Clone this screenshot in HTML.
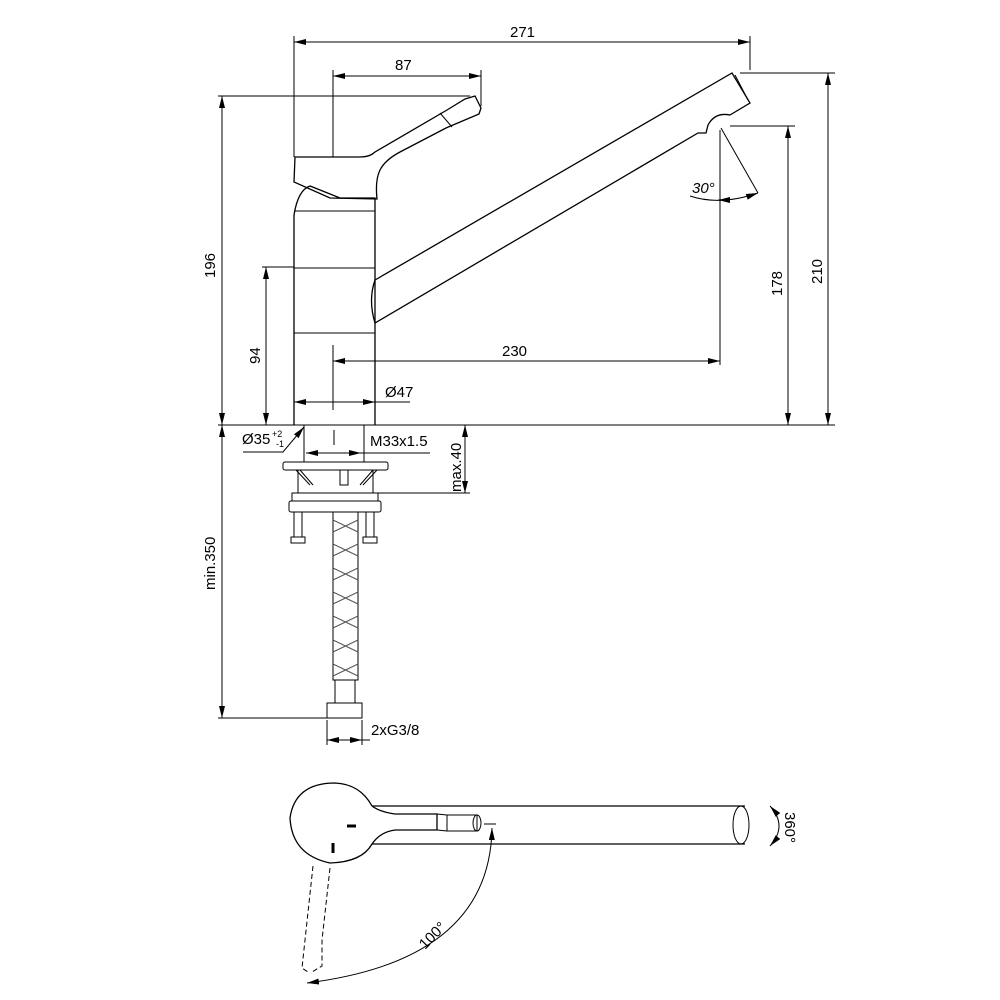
<!DOCTYPE html>
<html><head><style>body{margin:0;background:#fff}svg{display:block}text{font-family:"Liberation Sans",sans-serif;font-size:15px;fill:#000}</style></head>
<body>
<svg width="1000" height="1000" viewBox="0 0 1000 1000" xmlns="http://www.w3.org/2000/svg">
<defs>
<marker id="a" viewBox="0 0 12 6" refX="12" refY="3" markerWidth="12" markerHeight="6" orient="auto-start-reverse" markerUnits="userSpaceOnUse"><path d="M0,0L12,3L0,6z" fill="#000"/></marker>
</defs>
<g fill="none" stroke="#000" stroke-width="1">
<line x1="294" y1="36" x2="294" y2="157"/>
<line x1="750" y1="36" x2="750" y2="70"/>
<line x1="333" y1="70" x2="333" y2="157"/>
<line x1="481" y1="70" x2="481" y2="106"/>
<line x1="218" y1="96" x2="470" y2="96"/>
<line x1="262" y1="267" x2="294" y2="267"/>
<line x1="218" y1="425" x2="835" y2="425"/>
<line x1="740" y1="73" x2="835" y2="73"/>
<line x1="730" y1="126" x2="795" y2="126"/>
<line x1="720" y1="130" x2="720" y2="365"/>
<line x1="333" y1="345" x2="333" y2="410"/>
<line x1="378" y1="493" x2="470" y2="493"/>
<line x1="218" y1="718" x2="330" y2="718"/>
<line x1="327" y1="720" x2="327" y2="745"/>
<line x1="362" y1="720" x2="362" y2="745"/>
<line x1="294" y1="42" x2="750" y2="42" marker-start="url(#a)" marker-end="url(#a)"/>
<line x1="333" y1="76" x2="481" y2="76" marker-start="url(#a)" marker-end="url(#a)"/>
<line x1="222" y1="96" x2="222" y2="425" marker-start="url(#a)" marker-end="url(#a)"/>
<line x1="266" y1="267" x2="266" y2="425" marker-start="url(#a)" marker-end="url(#a)"/>
<line x1="828" y1="73" x2="828" y2="425" marker-start="url(#a)" marker-end="url(#a)"/>
<line x1="788" y1="126" x2="788" y2="425" marker-start="url(#a)" marker-end="url(#a)"/>
<line x1="333" y1="361" x2="720" y2="361" marker-start="url(#a)" marker-end="url(#a)"/>
<line x1="294" y1="402" x2="375" y2="402" marker-start="url(#a)" marker-end="url(#a)"/>
<line x1="375" y1="402" x2="410" y2="402"/>
<line x1="306" y1="453" x2="361" y2="453" marker-start="url(#a)" marker-end="url(#a)"/>
<line x1="361" y1="453" x2="430" y2="453"/>
<line x1="465" y1="425" x2="465" y2="493" marker-start="url(#a)" marker-end="url(#a)"/>
<line x1="222" y1="425" x2="222" y2="718" marker-start="url(#a)" marker-end="url(#a)"/>
<line x1="327" y1="740" x2="362" y2="740" marker-start="url(#a)" marker-end="url(#a)"/>
<line x1="362" y1="740" x2="370" y2="740"/>
<polyline points="243,452 283,452 304,427" marker-end="url(#a)"/>
<line x1="721" y1="128" x2="758" y2="193"/>
<path d="M690,196 Q720,206 758,193" marker-end="url(#a)"/>
<path d="M718,200 L722,200" marker-start="url(#a)"/>
<path d="M294,425 L294,215 Q298,190 310,186 L340,198 L375,198 L375,425" stroke-width="1.3"/>
<line x1="294" y1="211" x2="375" y2="211"/>
<line x1="294" y1="268" x2="375" y2="268"/>
<line x1="294" y1="333" x2="375" y2="333"/>
<path d="M295,157 L294,182 L330,198 L377,199 Q375,180 380,170 Q385,160 400,152 L446,128 L479,114 L481,108 L475,96 L465,99 L447,110 L375,152 Q370,157 360,157 Z" stroke-width="1.3"/>
<line x1="440" y1="113" x2="452" y2="127"/>
<path d="M375,280 L732,73 L750,103 L730,115 Q715,112 708,125 L706,133 L698,133 L375,323 Q368,300 375,280 Z" stroke-width="1.3"/>
<line x1="735" y1="75" x2="748" y2="100"/>
<rect x="304" y="425" width="60" height="37"/>
<line x1="334" y1="430" x2="334" y2="445"/>
<rect x="283" y="462" width="105" height="8" rx="2"/>
<path d="M296,470 L310,485 M300,470 L313,485 M373,470 L360,485 M377,470 L363,485 M340,470 L340,485 L348,485 L348,470"/>
<path d="M298,470 L298,493 M373,470 L373,493"/>
<rect x="292" y="493" width="86" height="8"/>
<rect x="289" y="501" width="92" height="11" rx="2"/>
<rect x="294" y="512" width="8" height="25"/><rect x="291" y="537" width="14" height="6"/>
<rect x="366" y="512" width="8" height="25"/><rect x="363" y="537" width="14" height="6"/>
<rect x="333" y="512" width="25" height="168"/>
<path d="M333,520 L358,532 M333,532 L358,520 M333,544 L358,556 M333,556 L358,544 M333,568 L358,580 M333,580 L358,568 M333,592 L358,604 M333,604 L358,592 M333,616 L358,628 M333,628 L358,616 M333,640 L358,652 M333,652 L358,640 M333,664 L358,676 M333,676 L358,664" stroke="#555"/>
<rect x="335" y="680" width="20" height="23"/>
<path d="M327,703 L362,703 L362,718 L327,718 Z"/>
<path d="M372,806 L745,806 M372,844 L745,844" stroke-width="1.3"/>
<ellipse cx="741" cy="825" rx="8" ry="19"/>
<path d="M372,806 Q360,784 335,783 Q295,783 290,818 Q292,855 330,863 Q362,862 372,844 Q380,832 395,830 L437,830 L437,814 L395,814 Q380,812 372,806" stroke-width="1.3" fill="#fff"/>
<rect x="447" y="815" width="30" height="16"/>
<path d="M437,814 L447,815 M437,830 L447,831"/>
<ellipse cx="477" cy="823" rx="4" ry="8"/>
<line x1="347" y1="826" x2="356" y2="826" stroke-width="3"/>
<line x1="333" y1="843" x2="333" y2="853" stroke-width="3"/>
<path d="M313,866 L305,940 L302,968 L308,972 M330,868 L322,940 L322,966 L312,972" stroke-dasharray="5,3"/>
<line x1="484" y1="824" x2="496" y2="824"/>
<path d="M492,828 Q490,960 307,983" marker-start="url(#a)" marker-end="url(#a)"/>
<path d="M770,806 Q788,826 770,846" marker-start="url(#a)" marker-end="url(#a)"/>
</g>
<text x="510" y="37">271</text>
<text x="395" y="70">87</text>
<text x="502" y="356">230</text>
<text x="385" y="397">Ø47</text>
<text x="242" y="444">Ø35</text>
<text x="272" y="437" style="font-size:9px">+2</text>
<text x="276" y="447" style="font-size:9px">-1</text>
<text x="370" y="446">M33x1.5</text>
<text x="371" y="735">2xG3/8</text>
<text x="692" y="193" style="font-style:italic">30°</text>
<text transform="translate(215,278) rotate(-90)">196</text>
<text transform="translate(260,364) rotate(-90)">94</text>
<text transform="translate(822,284) rotate(-90)">210</text>
<text transform="translate(782,296) rotate(-90)">178</text>
<text transform="translate(461,492) rotate(-90)">max.40</text>
<text transform="translate(215,590) rotate(-90)">min.350</text>
<text transform="translate(785,812) rotate(90)">360°</text>
<text transform="translate(425,950) rotate(-45)">100°</text>
</svg>
</body></html>
